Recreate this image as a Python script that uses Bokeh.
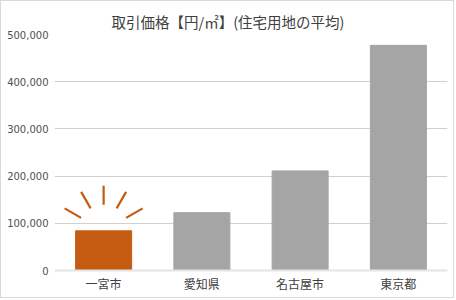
import math
from bokeh.plotting import figure
from bokeh.models import ColumnDataSource, FixedTicker, NumeralTickFormatter, Range1d
from bokeh.embed import file_html
from bokeh.resources import INLINE

# ---- data ----
categories = ["一宮市", "愛知県", "名古屋市", "東京都"]
prices = [84000, 122500, 211000, 477000]
bar_colors = ["#c55a11", "#a5a5a5", "#a5a5a5", "#a5a5a5"]
y_ticks = [0, 100000, 200000, 300000, 400000, 500000]
title_text = "取引価格【円/㎡】(住宅用地の平均)"
highlight = 0  # index of highlighted bar

# ---- layout ----
W, H = 454, 298
left, right, top, bottom = 53, 8, 33, 29
fw, fh = W - left - right, H - top - bottom
x_lo, x_hi = -0.5, len(categories) - 0.5
y_lo, y_hi = 0, 500000

xs = list(range(len(categories)))
src = ColumnDataSource(dict(x=xs, top=prices, color=bar_colors))

p = figure(width=W, height=H, output_backend="svg", toolbar_location=None,
           x_range=Range1d(x_lo, x_hi), y_range=Range1d(y_lo, y_hi),
           min_border_left=left, min_border_right=right,
           min_border_top=top, min_border_bottom=bottom,
           title=title_text)
p.styles = {"border": "1px solid #d9d9d9"}
p.outline_line_color = None
p.background_fill_color = "white"
p.border_fill_color = "white"

p.title.align = "left"
p.title.offset = 57
p.title.text_font = "Noto Sans CJK JP"
p.title.text_font_size = "14.5px"
p.title.text_font_style = "normal"
p.title.text_color = "#404040"
p.title.standoff = 5

px_per_x = fw / (x_hi - x_lo)
px_per_y = fh / (y_hi - y_lo)

p.vbar(x="x", top="top", width=0.57, bottom=0, fill_color="color",
       line_color="color", source=src)

# decorative rays around the highlighted bar
cx, cy = xs[highlight], prices[highlight]
x0s, y0s, x1s, y1s = [], [], [], []
for ang in [30, 60, 90, 120, 150]:
    a = math.radians(ang)
    for r, (xl, yl) in [(26, (x0s, y0s)), (45, (x1s, y1s))]:
        xl.append(cx + r * math.cos(a) / px_per_x)
        yl.append(cy + r * math.sin(a) / px_per_y)
p.segment(x0=x0s, y0=y0s, x1=x1s, y1=y1s, line_color="#c55a11",
          line_width=2.2)

# axes
p.xaxis.ticker = FixedTicker(ticks=xs)
p.xaxis.major_label_overrides = {i: c for i, c in enumerate(categories)}
p.xaxis.major_label_text_font = "Noto Sans CJK JP"
p.xaxis.major_label_text_font_size = "12px"
p.xaxis.major_label_text_color = "#404040"
p.xaxis.axis_line_color = "#e4e4e4"
p.xaxis.axis_line_width = 2
p.xaxis.major_tick_line_color = None
p.xaxis.minor_tick_line_color = None
p.xaxis.major_tick_out = 0
p.xaxis.major_tick_in = 0
p.xaxis.major_label_standoff = 4

p.yaxis.ticker = FixedTicker(ticks=y_ticks)
p.yaxis.formatter = NumeralTickFormatter(format="0,0")
p.yaxis.major_label_text_font = "DejaVu Sans"
p.yaxis.major_label_text_font_size = "10px"
p.yaxis.major_label_text_color = "#505050"
p.yaxis.axis_line_color = None
p.yaxis.major_tick_line_color = None
p.yaxis.minor_tick_line_color = None
p.yaxis.major_tick_out = 0
p.yaxis.major_tick_in = 0
p.yaxis.major_label_standoff = 6

p.xgrid.grid_line_color = None
p.ygrid.grid_line_color = "#d0d0d0"
p.ygrid.grid_line_width = 1

open("out.html", "w").write(file_html(p, INLINE))
